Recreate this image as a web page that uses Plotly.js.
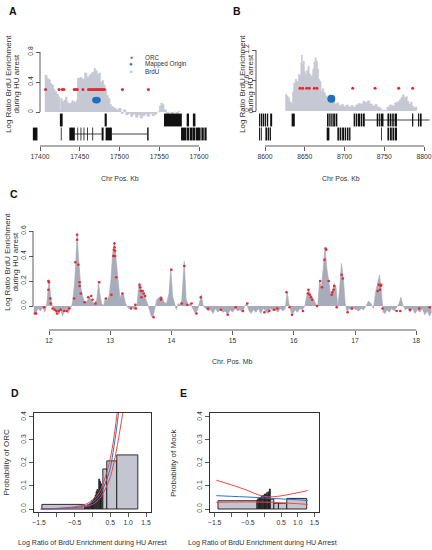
<!DOCTYPE html>
<html><head><meta charset="utf-8">
<script src="https://cdn.plot.ly/plotly-3.0.1.min.js"></script>
<style>html,body{margin:0;padding:0;background:#fff}#chart{width:432px;height:550px}</style>
</head><body><div id="chart"></div>
<script>
// ---------- Panel A data ----------
const A_brdu_pos = [17406,17409,17411,17413,17415,17417,17419,17421,17423,
  17425,17426,17428,17430,17432,17434,17436,17438,17440,17442,17444,17446,
  17447,17450,17453,17456,17459,17462,17465,17468,17470,17472,17474,17476,17478,17480,17482,17484,17486,17488,17490,
  17493,17496,17499,17502,17505,17508,17511,17514,17517,17520,17523,17526,17529,17532,17535,17538,17541,17544,17547,
  17550,17552,17554,17556,17559,17562,17565,17568,17571,17574,17576];
const A_brdu_val = [0.49,0.45,0.43,0.38,0.36,0.30,0.27,0.24,0.20,
  0.02,0.18,0.14,0.16,0.20,0.13,0.11,0.12,0.15,0.14,0.13,0.16,
  0.45,0.46,0.44,0.52,0.47,0.50,0.53,0.58,0.55,0.50,0.52,0.40,0.42,0.36,0.30,0.22,0.18,0.10,0.07,
  0.05,0.03,0.05,-0.02,0.03,-0.04,-0.02,-0.06,-0.03,-0.07,-0.04,-0.08,-0.05,-0.03,-0.06,-0.02,-0.05,-0.03,0.00,
  0.08,0.12,0.10,0.03,-0.02,0.00,-0.03,0.00,-0.02,0.01,0.0];
const A_orc_pos = [17407,17424,17428,17430,17443,17445,17447,17454,17461,17463,17465,17467,17469,17471,17473,17475,17477,17479,17481,17503.6,17536.3];
const A_orc_val = [0.3,0.3,0.3,0.3,0.3,0.3,0.3,0.3,0.3,0.3,0.3,0.3,0.3,0.3,0.3,0.3,0.3,0.3,0.3,0.3,0.3];
const A_origin_pos = [17471];
const A_origin_val = [0.16];
const A_gene_start = [17425,17481.3,17556,17584.5,17592.3,
  17391,17426.2,17436.9,17447,17451,17454.8,17459.3,17465.8,17477.5,17482.5,17534.8,17577.4,17584.5,17588.2,17592.3,17596.2,17603,17606.8];
const A_gene_end = [17428.5,17484,17578.4,17587.4,17595.5,
  17396.8,17427.2,17443.8,17448,17452,17455.8,17460.3,17466.8,17480,17490.4,17536.6,17584,17587.4,17592,17595.5,17602,17606,17609.6];
const A_gene_row = [1,1,1,1,1, 2,2,2,2,2,2,2,2,2,2,2,2,2,2,2,2,2,2];
const A_line_start = [17443.8,17490.4];
const A_line_end = [17477.5,17534.8];
const A_line_row = [2,2];
const A_xticks = [17400,17450,17500,17550,17600];
const A_yticks = [0,0.4,0.8];
const A_ylabels = ['0','0.4','0.8'];

// ---------- Panel B data ----------
const B_brdu_pos = [8625.5,8627,8629,8631,8633,8634.5,8636,8638,8640,8642,
  8644,8645,8646,8647,8648,8649.5,8651,8652.5,8654,8655.5,
  8657,8658.5,8660,8661.5,8663,8664.5,8666,8667.5,8669,8670.5,
  8672,8674,8676,8678,8680,8682,8684,8686,8688,8690,
  8693,8696,8699,8702,8705,8708,8711,8714,8717,8720,
  8723,8726,8729,8732,8735,8738,8741,8744,8746,8747,
  8749,8751,8753,8755,8757,8760,8763,8766,8769,8771,
  8773,8775,8777,8779,8781,8783,8785,8787,8789,8791];
const B_brdu_val = [0.33,0.30,0.26,0.18,0.15,0.38,0.55,0.62,0.58,0.72,
  0.70,0.95,1.10,0.92,0.98,0.78,0.72,0.80,0.88,0.74,
  0.68,0.70,0.82,0.96,1.05,0.98,0.82,0.62,0.58,0.40,
  0.44,0.36,0.30,0.26,0.25,0.20,0.18,0.19,0.14,0.16,
  0.11,0.13,0.09,0.12,0.08,0.11,0.08,0.12,0.15,0.14,
  0.19,0.17,0.20,0.14,0.10,0.13,0.08,0.06,0.04,0.0,
  0.02,0.0,0.07,0.09,0.12,0.10,0.16,0.18,0.22,0.27,
  0.32,0.26,0.28,0.19,0.14,0.17,0.10,0.06,0.08,0.03];
const B_orc_pos = [8644,8647.4,8652.4,8655.8,8662,8665.4,8710.3,8738.4,8768.2,8785.7];
const B_orc_val = [0.45,0.45,0.45,0.45,0.45,0.45,0.45,0.45,0.45,0.45];
const B_origin_pos = [8683.4];
const B_origin_val = [0.24];
const B_gene_start = [8592.5,8594.8,8597.2,8599.8,8602.5,8606.5,8633.5,8678,8680.8,8683.3,8685.8,8688.8,
  8711.5,8714.3,8716.8,8720.3,8722.8,8740.5,8743,8745.5,8754,8756.8,8760,8763,8785,8792.5,8795,
  8592.5,8595,8600.5,8603.3,8605.8,8677.6,8691,8693.8,8697,8700.3,8703,8705.8,8746,8754,8757,8760.3,8763.3];
const B_gene_end = [8594,8596.5,8599,8601.5,8604,8609,8637.5,8680,8682.5,8685,8688,8691,
  8713.5,8716,8719.5,8722,8725.5,8742.2,8744.5,8749,8756,8759,8762,8766,8786.5,8794,8797,
  8594,8596,8602.5,8605,8607.5,8681,8693,8696,8699.5,8702,8705,8707.5,8747,8756,8759.5,8762.5,8766];
const B_gene_row = [1,1,1,1,1,1,1,1,1,1,1,1, 1,1,1,1,1,1,1,1,1,1,1,1,1,1,1,
  2,2,2,2,2,2,2,2,2,2,2,2,2,2,2,2,2];
const B_line_start = [8725.5];
const B_line_end = [8807];
const B_line_row = [1];
const B_xticks = [8600,8650,8700,8750,8800];
const B_yticks = [0,0.6,1.2];
const B_ylabels = ['0','0.6','1.2'];

// ---------- Panel C data ----------
const C_pos = [11.75,11.78,11.82,11.86,11.90,11.93,11.96,11.98,12.00,12.02,
  12.04,12.07,12.10,12.13,12.16,12.19,12.22,12.25,12.28,12.31,
  12.34,12.37,12.39,12.42,12.44,12.46,12.48,12.50,12.52,12.55,
  12.58,12.62,12.66,12.70,12.74,12.78,12.81,12.83,12.86,12.89,
  12.92,12.95,12.98,13.01,13.04,13.07,13.10,13.13,13.16,13.19,
  13.22,13.25,13.30,13.35,13.40,13.44,13.47,13.50,13.53,13.57,
  13.61,13.64,13.67,13.70,13.73,13.76,13.80,13.84,13.88,13.92,
  13.96,13.99,14.02,14.05,14.08,14.11,14.14,14.17,14.21,14.24,
  14.27,14.31,14.35,14.39,14.43,14.47,14.49,14.52,14.56,14.60,
  14.64,14.68,14.72,14.76,14.80,14.84,14.88,14.92,14.96,15.00,
  15.04,15.08,15.12,15.16,15.20,15.23,15.26,15.30,15.34,15.38,
  15.42,15.46,15.50,15.54,15.58,15.62,15.66,15.70,15.74,15.78,
  15.82,15.86,15.89,15.92,15.95,15.98,16.02,16.06,16.10,16.14,
  16.18,16.21,16.24,16.27,16.30,16.33,16.36,16.39,16.42,16.45,
  16.48,16.51,16.54,16.57,16.60,16.63,16.66,16.69,16.72,16.75,
  16.78,16.81,16.84,16.87,16.90,16.94,16.98,17.02,17.06,17.10,
  17.14,17.18,17.22,17.26,17.30,17.34,17.37,17.40,17.43,17.46,
  17.49,17.52,17.56,17.60,17.64,17.68,17.72,17.75,17.78,17.82,
  17.86,17.90,17.94,17.98,18.02,18.06,18.10,18.14,18.18,18.22,
  18.25];
const C_val = [-0.05,-0.06,-0.02,-0.04,-0.01,-0.05,0.00,0.10,0.21,0.12,
  0.03,-0.02,-0.04,-0.03,-0.07,-0.03,-0.08,-0.04,-0.02,-0.06,
  -0.03,0.00,0.05,0.20,0.38,0.58,0.40,0.25,0.15,0.08,
  0.03,0.04,0.07,0.04,0.02,0.05,0.19,0.10,0.02,0.00,
  0.06,0.04,0.08,0.20,0.42,0.51,0.38,0.20,0.06,0.10,
  0.09,0.02,-0.02,-0.01,-0.03,0.02,0.18,0.15,0.11,0.07,
  0.02,-0.04,-0.08,-0.09,-0.02,0.05,0.07,0.08,0.03,0.02,
  0.10,0.30,0.08,0.02,-0.03,0.02,0.01,0.05,0.36,0.06,
  0.01,0.02,-0.02,-0.06,-0.03,0.04,0.09,0.00,-0.02,-0.04,
  -0.03,-0.06,-0.02,-0.05,-0.03,-0.05,-0.04,-0.07,-0.03,-0.05,
  -0.02,-0.04,-0.03,-0.05,0.00,0.02,-0.03,-0.06,-0.03,-0.05,
  -0.02,-0.06,-0.02,-0.04,-0.06,-0.02,-0.04,-0.03,-0.05,-0.02,
  -0.04,-0.02,0.11,0.02,-0.04,-0.07,-0.03,-0.05,-0.02,-0.03,
  0.00,0.08,0.13,0.10,0.07,0.05,0.02,-0.01,0.20,0.15,
  0.30,0.47,0.30,0.20,0.10,0.12,0.18,0.15,-0.01,0.15,
  0.34,0.22,0.02,-0.05,-0.02,-0.03,-0.02,-0.03,-0.04,-0.02,
  -0.03,0.00,0.04,0.02,-0.02,0.12,0.18,0.25,0.12,-0.05,
  -0.06,-0.03,-0.05,-0.02,-0.04,-0.01,0.02,0.07,0.01,-0.03,
  -0.02,-0.05,-0.02,-0.06,-0.03,-0.05,-0.02,-0.07,-0.04,-0.08,
  -0.05];
const C_orc_pos = [11.77,11.79,11.92,11.99,12.00,11.99,12.02,12.03,12.06,12.09,
  12.12,12.13,12.16,12.19,12.25,12.29,12.33,12.41,12.43,12.46,
  12.46,12.48,12.50,12.50,12.52,12.58,12.64,12.69,12.71,12.76,
  12.82,12.93,13.02,13.05,13.06,13.07,13.07,13.08,13.08,13.10,
  13.20,13.34,13.41,13.42,13.48,13.49,13.50,13.53,13.51,13.55,
  13.57,13.71,13.83,13.83,14.00,14.17,14.21,14.26,14.33,14.41,
  14.48,14.60,14.81,14.92,15.05,15.17,15.24,15.52,15.60,15.68,
  15.73,15.88,15.93,15.97,16.15,16.23,16.24,16.26,16.28,16.30,
  16.38,16.43,16.46,16.50,16.52,16.53,16.57,16.62,16.63,16.65,
  16.66,16.70,16.78,16.80,16.88,16.95,17.37,17.39,17.41,17.42,
  17.43,17.45,17.68,17.74,17.90,18.05,18.22];
const C_orc_val = [-0.06,-0.06,-0.01,0.20,0.19,0.13,0.06,0.02,-0.02,-0.03,
  -0.04,-0.06,-0.04,-0.03,-0.04,-0.04,-0.02,0.06,0.35,0.57,
  0.53,0.33,0.19,0.16,0.10,0.03,0.07,0.08,0.05,0.02,
  0.19,0.06,0.09,0.40,0.45,0.47,0.50,0.44,0.40,0.23,
  0.10,-0.02,0.01,-0.02,0.17,0.15,0.12,0.12,0.07,0.10,
  0.08,-0.09,0.06,0.05,0.29,0.02,0.32,0.01,0.02,-0.06,
  0.07,-0.02,-0.03,-0.07,-0.01,-0.04,0.02,-0.05,-0.04,-0.03,
  -0.02,0.11,-0.01,-0.07,-0.04,0.10,0.13,0.09,0.07,0.05,
  0.00,0.20,0.15,0.37,0.46,0.45,0.20,0.09,0.11,0.13,
  0.16,-0.01,0.25,0.22,-0.05,-0.02,0.12,0.17,0.13,0.16,
  0.17,-0.02,-0.04,-0.04,-0.03,-0.02,-0.01];
const C_xticks = [12,13,14,15,16,17,18];
const C_yticks = [0,0.2,0.4,0.6];
const C_ylabels = ['0.0','0.2','0.4','0.6'];

// ---------- Panel D data ----------
const D_edges = [-1.42,-0.225,-0.2,-0.175,-0.15,-0.125,-0.1,-0.075,-0.05,-0.025,0,0.025,0.05,0.075,0.1,0.125,0.15,0.175,0.2,0.225,0.25,0.29,0.40,0.68,1.27];
const D_heights = [0.02,0.008,0.01,0.012,0.015,0.018,0.02,0.024,0.028,0.032,0.036,0.042,0.05,0.06,0.075,0.085,0.08,0.13,0.12,0.11,0.09,0.174,0.209,0.235];
const D_fit_x = [-1.45,-1.0,-0.5,-0.2,0,0.2,0.4,0.5,0.6,0.7,0.8];
const D_fit_y = [0.0,0.002,0.006,0.015,0.03,0.06,0.13,0.18,0.27,0.38,0.52];
const D_upper_x = [-1.45,-1.0,-0.5,-0.2,0,0.2,0.4,0.5,0.6,0.7,0.75];
const D_upper_y = [0.0,0.003,0.01,0.02,0.04,0.075,0.16,0.22,0.31,0.43,0.5];
const D_lower_x = [-1.45,-1.0,-0.5,-0.2,0,0.2,0.4,0.5,0.6,0.7,0.8,0.9];
const D_lower_y = [0.0,0.001,0.003,0.01,0.02,0.045,0.10,0.14,0.20,0.28,0.37,0.48];

// ---------- Panel E data ----------
const E_edges = [-1.40,-0.225,-0.2,-0.175,-0.15,-0.125,-0.1,-0.075,-0.05,-0.025,0,0.025,0.05,0.075,0.1,0.125,0.15,0.175,0.28,0.42,0.67,1.27];
const E_heights = [0.036,0.040,0.045,0.042,0.050,0.048,0.055,0.052,0.060,0.058,0.065,0.062,0.070,0.060,0.075,0.068,0.087,0.043,0.025,0.025,0.046];
const E_fit_x = [-1.45,-1.0,-0.5,0,0.5,1.0,1.3];
const E_fit_y = [0.058,0.055,0.052,0.048,0.044,0.040,0.037];
const E_upper_x = [-1.45,-1.0,-0.5,-0.2,0.1,0.4,0.8,1.3];
const E_upper_y = [0.125,0.105,0.080,0.062,0.053,0.055,0.065,0.080];
const E_lower_x = [-1.45,-1.0,-0.5,0,0.5,1.0,1.3];
const E_lower_y = [0.029,0.030,0.031,0.030,0.027,0.023,0.020];

const DE_xticks = [-1.5,-1,-0.5,0,0.5,1,1.5];
const DE_xlabels = ['\u22121.5','','\u22120.5','','0.5','1.0','1.5'];
const DE_yticks = [0,0.1,0.2,0.3,0.4];
const DE_ylabels = ['0.0','0.1','0.2','0.3','0.4'];

// ---------- helpers ----------
const W = 432, H = 550;
const fx = p => p / W;
const fy = p => 1 - p / H;
const RED = '#e8282c', BLUE = '#1f6fc1', GREY = '#c6c9d4', GREYC = '#a8abb9', INK = '#333333';
const FONT = 'Liberation Sans, Arial, sans-serif';

function fillTrace(x, y, xa, ya, color, shape) {
  return {type:'scatter', mode:'lines', x:x, y:y, xaxis:xa, yaxis:ya, fill:'tozeroy',
    fillcolor:color, line:{color:color, width:0.6, shape:shape}, hoverinfo:'skip'};
}
function dotTrace(x, y, xa, ya, color, size) {
  return {type:'scatter', mode:'markers', x:x, y:y, xaxis:xa, yaxis:ya, cliponaxis:false,
    marker:{color:color, size:size, line:{width:0}}, hoverinfo:'skip'};
}
function geneTrace(starts, ends, rows, xa, ya) {
  return {type:'bar', orientation:'h', base:starts, x:starts.map((s,i)=>ends[i]-s), y:rows, width:0.92,
    xaxis:xa, yaxis:ya, marker:{color:'#111', line:{width:0}}, hoverinfo:'skip'};
}
function segTrace(starts, ends, rows, xa, ya) {
  const x = [], y = [];
  starts.forEach((s,i)=>{ x.push(s, ends[i], null); y.push(rows[i], rows[i], null); });
  return {type:'scatter', mode:'lines', x:x, y:y, xaxis:xa, yaxis:ya, line:{color:'#111', width:0.8}, hoverinfo:'skip'};
}
function histTrace(edges, heights, xa, ya) {
  const c = [], w = [];
  for (let i = 0; i < heights.length; i++) { c.push((edges[i]+edges[i+1])/2); w.push(edges[i+1]-edges[i]); }
  return {type:'bar', x:c, y:heights, width:w, xaxis:xa, yaxis:ya,
    marker:{color:'#c3c6d1', line:{color:'#1a1a1a', width:0.9}}, hoverinfo:'skip'};
}
function curveTrace(x, y, xa, ya, color) {
  return {type:'scatter', mode:'lines', x:x, y:y, xaxis:xa, yaxis:ya,
    line:{color:color, width:1, shape:'spline'}, hoverinfo:'skip'};
}

const traces = [
  fillTrace(A_brdu_pos, A_brdu_val, 'x', 'y', GREY, 'hv'),
  dotTrace(A_orc_pos, A_orc_val, 'x', 'y', RED, 3),
  geneTrace(A_gene_start, A_gene_end, A_gene_row, 'x', 'y2'),
  segTrace(A_line_start, A_line_end, A_line_row, 'x', 'y2'),
  fillTrace(B_brdu_pos, B_brdu_val, 'x2', 'y3', GREY, 'hv'),
  dotTrace(B_orc_pos, B_orc_val, 'x2', 'y3', RED, 3),
  dotTrace(B_origin_pos, B_origin_val, 'x2', 'y3', BLUE, 8),
  geneTrace(B_gene_start, B_gene_end, B_gene_row, 'x2', 'y4'),
  segTrace(B_line_start, B_line_end, B_line_row, 'x2', 'y4'),
  fillTrace(C_pos, C_val, 'x3', 'y5', GREYC, 'linear'),
  dotTrace(C_orc_pos, C_orc_val, 'x3', 'y5', RED, 2.6),
  histTrace(D_edges, D_heights, 'x4', 'y6'),
  curveTrace(D_upper_x, D_upper_y, 'x4', 'y6', '#f2473d'),
  curveTrace(D_lower_x, D_lower_y, 'x4', 'y6', '#f2473d'),
  curveTrace(D_fit_x, D_fit_y, 'x4', 'y6', '#2b6fd6'),
  histTrace(E_edges, E_heights, 'x5', 'y7'),
  curveTrace(E_upper_x, E_upper_y, 'x5', 'y7', '#f2473d'),
  curveTrace(E_lower_x, E_lower_y, 'x5', 'y7', '#f2473d'),
  curveTrace(E_fit_x, E_fit_y, 'x5', 'y7', '#2b6fd6')
];

const tickFont = {family:FONT, size:6.8, color:INK};
function rx(domainPx, range, posPx, ticks, labels) {
  return {domain:[fx(domainPx[0]), fx(domainPx[1])], range:range, anchor:'free', position:fy(posPx),
    showline:false, zeroline:false, showgrid:false, ticks:'outside', ticklen:4, tickwidth:0.8, tickcolor:INK,
    tickvals:ticks, ticktext:labels || ticks.map(String), tickfont:tickFont, fixedrange:true};
}
function ry(domainPx, range, posPx, ticks, labels) {
  return {domain:[fy(domainPx[1]), fy(domainPx[0])], range:range, anchor:'free', position:fx(posPx),
    showline:false, zeroline:false, showgrid:false, ticks:'outside', ticklen:4, tickwidth:0.8, tickcolor:INK,
    tickvals:ticks, ticktext:labels, tickangle:-90, tickfont:tickFont, fixedrange:true};
}
function track(domainPx, anchor) {
  return {domain:[fy(domainPx[1]), fy(domainPx[0])], range:[2.5,0.5], anchor:anchor, visible:false, fixedrange:true};
}
function boxX(domainPx, anchor) {
  return {domain:[fx(domainPx[0]), fx(domainPx[1])], range:[-1.64,1.64], anchor:anchor,
    showline:true, mirror:true, linecolor:INK, linewidth:1, zeroline:false, showgrid:false,
    ticks:'outside', ticklen:4, tickwidth:0.8, tickcolor:INK, tickvals:DE_xticks, ticktext:DE_xlabels, tickfont:tickFont, fixedrange:true};
}
function boxY(domainPx, anchor) {
  return {domain:[fy(domainPx[1]), fy(domainPx[0])], range:[-0.013,0.417], anchor:anchor,
    showline:true, mirror:true, linecolor:INK, linewidth:1, zeroline:false, showgrid:false,
    ticks:'outside', ticklen:4, tickwidth:0.8, tickcolor:INK, tickvals:DE_yticks, ticktext:DE_ylabels, tickangle:-90, tickfont:tickFont, fixedrange:true};
}

function hline(xref, x0, x1, ypx) { return {type:'line', xref:xref, yref:'paper', x0:x0, x1:x1, y0:fy(ypx), y1:fy(ypx), line:{color:INK, width:0.8}}; }
function vline(yref, y0, y1, xpx) { return {type:'line', xref:'paper', yref:yref, x0:fx(xpx), x1:fx(xpx), y0:y0, y1:y1, line:{color:INK, width:0.8}}; }

const shapes = [
  hline('x', A_xticks[0], A_xticks[A_xticks.length-1], 146),
  vline('y', A_yticks[0], A_yticks[A_yticks.length-1], 40),
  hline('x2', B_xticks[0], B_xticks[B_xticks.length-1], 146),
  vline('y3', B_yticks[0], B_yticks[B_yticks.length-1], 256),
  hline('x3', C_xticks[0], C_xticks[C_xticks.length-1], 330),
  vline('y5', C_yticks[0], C_yticks[C_yticks.length-1], 33),
  {type:'circle', xref:'x', yref:'y', x0:A_origin_pos[0]-5.5, x1:A_origin_pos[0]+5.5,
    y0:A_origin_val[0]-0.045, y1:A_origin_val[0]+0.045, fillcolor:BLUE, line:{width:0}}
];

function txt(t, xpx, ypx, size, opts) {
  return Object.assign({text:t, xref:'paper', yref:'paper', x:fx(xpx), y:fy(ypx), showarrow:false,
    xanchor:'center', yanchor:'middle', font:{family:FONT, size:size, color:INK}}, opts || {});
}
const LEG = {family:FONT, size:6.3, color:INK};
const annotations = [
  txt('<b>A</b>', 13, 11, 10.5, {font:{family:FONT, size:10.5, color:'#111'}}),
  txt('<b>B</b>', 236.5, 11, 10.5, {font:{family:FONT, size:10.5, color:'#111'}}),
  txt('<b>C</b>', 14, 194, 10.5, {font:{family:FONT, size:10.5, color:'#111'}}),
  txt('<b>D</b>', 15, 393, 10.5, {font:{family:FONT, size:10.5, color:'#111'}}),
  txt('<b>E</b>', 183, 393, 10.5, {font:{family:FONT, size:10.5, color:'#111'}}),
  // legend of panel A
  txt('\u25CF', 131, 57, 5, {font:{family:FONT, size:5, color:RED}}),
  txt('\u25CF', 131, 64.3, 6, {font:{family:FONT, size:6, color:BLUE}}),
  txt('\u25A0', 131, 71.6, 4.5, {font:{family:FONT, size:4.5, color:'#c0c3cf'}}),
  txt('ORC', 143, 57, 6.3, {xanchor:'left', font:LEG}),
  txt('Mapped Origin', 143, 64.3, 6.3, {xanchor:'left', font:LEG}),
  txt('BrdU', 143, 71.6, 6.3, {xanchor:'left', font:LEG}),
  // axis titles
  txt('Chr Pos. Kb', 120, 178, 7),
  txt('Chr Pos. Kb', 341, 178, 7),
  txt('Chr. Pos. Mb', 232, 361, 7),
  txt('Log Ratio of BrdU Enrichment during HU Arrest', 92, 543, 7.1),
  txt('Log Ratio of BrdU Enrichment during HU Arrest', 262, 543, 7.1),
  txt('Log Ratio BrdU Enrichment', 9, 84, 8, {textangle:-90}),
  txt('during HU arrest', 16.5, 84, 8, {textangle:-90}),
  txt('Log Ratio BrdU Enrichment', 243, 84, 8, {textangle:-90}),
  txt('during HU arrest', 250.5, 84, 8, {textangle:-90}),
  txt('Log Ratio BrdU Enrichment', 7, 262, 8, {textangle:-90}),
  txt('during HU arrest', 14.5, 262, 8, {textangle:-90}),
  txt('Probability of ORC', 5.5, 463, 8, {textangle:-90}),
  txt('Probability of Mock', 173, 463, 8, {textangle:-90})
];

const layout = {
  width:W, height:H, margin:{l:0, r:0, t:0, b:0}, paper_bgcolor:'#ffffff', plot_bgcolor:'rgba(0,0,0,0)',
  showlegend:false, barmode:'overlay', font:{family:FONT, size:7, color:INK},
  xaxis: rx([30,212], [17387.42,17616.35], 146, A_xticks),
  yaxis: ry([46,122], [-0.133,0.88], 40, A_yticks, A_ylabels),
  yaxis2: track([113,141], 'x'),
  xaxis2: rx([250,432], [8581.13,8810.06], 146, B_xticks),
  yaxis3: ry([44,122], [-0.2165,1.319], 256, B_yticks, B_ylabels),
  yaxis4: track([113,141], 'x2'),
  xaxis3: rx([33,432], [11.7386,18.258], 330, C_xticks),
  yaxis5: ry([222,324], [-0.144,0.672], 33, C_yticks, C_ylabels),
  xaxis4: boxX([34,151], 'y6'),
  yaxis6: boxY([413,512], 'x4'),
  xaxis5: boxX([210,319], 'y7'),
  yaxis7: boxY([413,512], 'x5'),
  shapes:shapes, annotations:annotations
};

Plotly.newPlot('chart', traces, layout, {staticPlot:true, displayModeBar:false});
</script></body></html>
